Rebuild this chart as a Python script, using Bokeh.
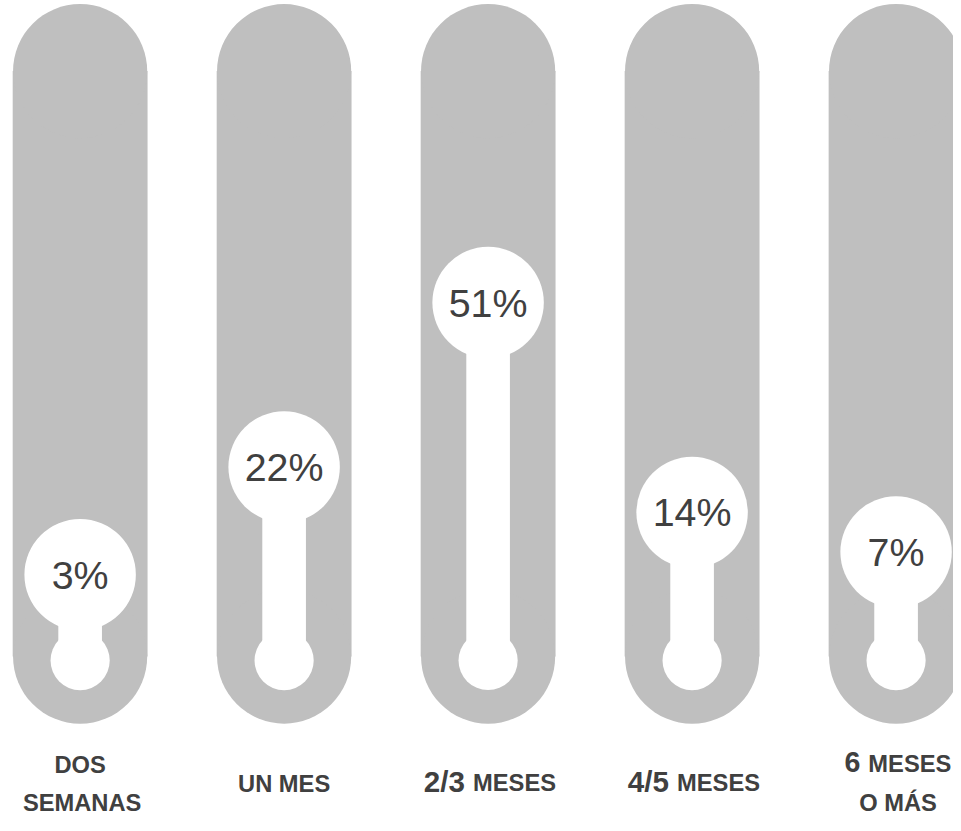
from bokeh.plotting import figure
from bokeh.models import Range1d, ColumnDataSource
from bokeh.embed import file_html
from bokeh.resources import INLINE
from bokeh.core.properties import value

# ---------------- data ----------------
categories = ["DOS SEMANAS", "UN MES", "2/3 MESES", "4/5 MESES", "6 MESES O MÁS"]
percents = [3, 22, 51, 14, 7]
pct_labels = ["3%", "22%", "51%", "14%", "7%"]

# category label pieces: (big part, small part) for first line, optional second line
line1_big = ["DOS", "UN MES", "2/3", "4/5", "6"]
line1_small = ["", "", "MESES", "MESES", "MESES"]
line2_text = ["SEMANAS", "", "", "", "O MÁS"]

# ---------------- style / layout ----------------
W, H = 953, 815
REF_W, REF_H = 961, 831
SX, SY = W / REF_W, H / REF_H
S = (SX + SY) / 2
GRAY = "#bfbfbf"
TXT = "#404040"
FONT = "Liberation Sans"

# reference pixel geometry -> value scale
Y0, K = 602.8, 5.78          # ref_y = Y0 - K * value
X0, DX = 80.3, 205.7         # ref_x = X0 + DX * index
def v_of(py):
    return (Y0 - py) / K

x_start = (0 - X0) / DX
x_end = (REF_W - X0) / DX
y_top = v_of(0)
y_bot = v_of(REF_H)

TRACK_TOP = v_of(72)
TRACK_BOT = v_of(669)
BULB = v_of(673)

p = figure(width=W, height=H, output_backend="svg", toolbar_location=None,
           x_range=Range1d(x_start, x_end), y_range=Range1d(y_bot, y_top),
           min_border=0, background_fill_color="white", border_fill_color="white")
p.xaxis.visible = False
p.yaxis.visible = False
p.grid.visible = False
p.outline_line_color = None

idx = list(range(len(categories)))
src = ColumnDataSource(dict(
    x=idx,
    pct=percents,
    lab=pct_labels,
    track_y=[(TRACK_TOP + TRACK_BOT) / 2] * len(idx),
    track_h=[TRACK_TOP - TRACK_BOT] * len(idx),
    top=[TRACK_TOP] * len(idx),
    bot=[TRACK_BOT] * len(idx),
    bulb=[BULB] * len(idx),
    tube_y=[(BULB + v) / 2 for v in percents],
    tube_h=[v - BULB for v in percents],
))

# gray pill
p.rect(x="x", y="track_y", width=136 * SX, width_units="screen", height="track_h",
       source=src, fill_color=GRAY, line_color=None)
p.scatter(x="x", y="top", size=136 * S, marker="circle", source=src,
          fill_color=GRAY, line_color=None)
p.scatter(x="x", y="bot", size=136 * S, marker="circle", source=src,
          fill_color=GRAY, line_color=None)

# white thermometer
p.rect(x="x", y="tube_y", width=44 * SX, width_units="screen", height="tube_h",
       source=src, fill_color="white", line_color=None)
p.scatter(x="x", y="bulb", size=60 * S, marker="circle", source=src,
          fill_color="white", line_color=None)
p.scatter(x="x", y="pct", size=113 * S, marker="circle", source=src,
          fill_color="white", line_color=None)

# percent labels
p.text(x="x", y="pct", text="lab", source=src, text_align="center",
       text_baseline="middle", text_font=value(FONT), text_font_size=f"{40 * S:.1f}px",
       text_color=TXT)

# ---------------- category labels ----------------
WID = {"0": .556, "1": .556, "2": .556, "3": .556, "4": .556, "5": .556, "6": .556,
       "/": .278, " ": .278, "M": .833, "E": .667, "S": .667, "O": .778, "Á": .722,
       "A": .722, "D": .722, "N": .722, "U": .722}
def tw(s, fs):
    return sum(WID.get(c, .6) for c in s) * fs

BIG_FS = {0: 24, 1: 24, 2: 30, 3: 30, 4: 29}
SMALL_FS = {2: 24, 3: 24, 4: 24}
LINE2_FS = 24
LINE1_BASE = {0: 788, 1: 808, 2: 807, 3: 807, 4: 787}
LINE2_BASE = 826.5

def mid_v(base_ref, fs_ref):
    # vertical centre of capitals, from the baseline (reference pixels)
    return v_of(base_ref - 0.36 * fs_ref)

def label(i, txt, fs_ref, base_ref, xoff=0.0, align="center"):
    p.text(x=[i], y=[mid_v(base_ref, fs_ref)], text=[txt], x_offset=xoff,
           text_align=align, text_baseline="middle", text_font=value(FONT),
           text_font_style="bold", text_font_size=f"{fs_ref * S:.1f}px",
           text_color=TXT)

for i in idx:
    big = line1_big[i]
    small = line1_small[i]
    bfs = BIG_FS[i]
    if small:
        sfs = SMALL_FS[i]
        gap = 8
        total = tw(big, bfs) + gap + tw(small, sfs)
        left = (-total / 2 + 2) * SX
        label(i, big, bfs, LINE1_BASE[i], left, "left")
        label(i, small, sfs, LINE1_BASE[i], left + (tw(big, bfs) + gap) * SX, "left")
    else:
        label(i, big, bfs, LINE1_BASE[i])
    if line2_text[i]:
        label(i, line2_text[i], LINE2_FS, LINE2_BASE, 2 * SX)

open("out.html", "w").write(file_html(p, INLINE))
